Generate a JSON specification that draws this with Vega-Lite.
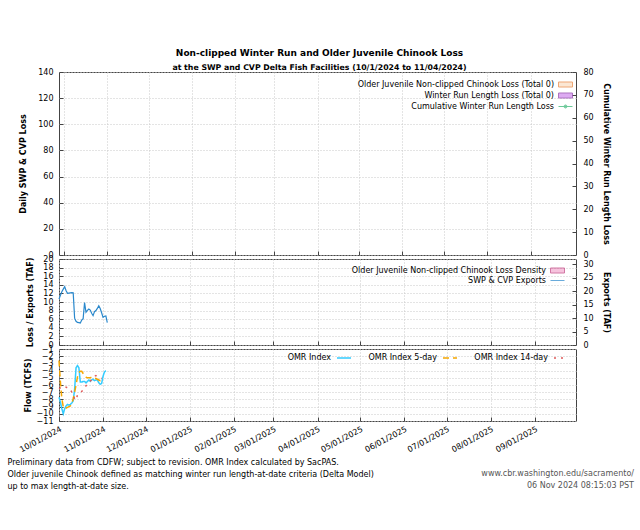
{
  "$schema": "https://vega.github.io/schema/vega-lite/v6.json",
  "padding": {"left": 6, "top": 48, "right": 4, "bottom": 4},
  "bounds": "flush",
  "spacing": 4,
  "resolve": {
    "scale": {"color": "independent", "fill": "independent", "stroke": "independent", "shape": "independent", "strokeDash": "independent"},
    "legend": {"color": "independent", "fill": "independent", "stroke": "independent", "shape": "independent", "strokeDash": "independent"}
  },
  "title": {
    "text": "Non-clipped Winter Run and Older Juvenile Chinook Loss",
    "subtitle": "at the SWP and CVP Delta Fish Facilities (10/1/2024 to 11/04/2024)",
    "anchor": "middle",
    "dx": -1,
    "offset": -4,
    "font": "DejaVu Sans",
    "fontSize": 9,
    "fontWeight": "bold",
    "color": "#000",
    "subtitleFont": "DejaVu Sans",
    "subtitleFontSize": 7.8,
    "subtitleFontWeight": "bold",
    "subtitleColor": "#000",
    "subtitlePadding": 6
  },
  "datasets": {
    "daily": [
      {"date": "2024-10-01", "loss": 0, "exports": 17.1, "omr": -7.7, "omr5": -2.6, "omr14": -6.5},
      {"date": "2024-10-02", "loss": 0, "exports": 18.5, "omr": -8.4, "omr5": -5.6, "omr14": -6.4},
      {"date": "2024-10-03", "loss": 0, "exports": 19.8, "omr": -9.3, "omr5": -7.9, "omr14": -6.3},
      {"date": "2024-10-04", "loss": 0, "exports": 20.8, "omr": -10.0, "omr5": -9.0, "omr14": -6.2},
      {"date": "2024-10-05", "loss": 0, "exports": 21.7, "omr": -9.3, "omr5": -9.3, "omr14": -6.2},
      {"date": "2024-10-06", "loss": 0, "exports": 20.2, "omr": -8.9, "omr5": -9.2, "omr14": -6.3},
      {"date": "2024-10-07", "loss": 0, "exports": 19.2, "omr": -8.7, "omr5": -9.1, "omr14": -6.4},
      {"date": "2024-10-08", "loss": 0, "exports": 19.3, "omr": -8.8, "omr5": -9.0, "omr14": -6.5},
      {"date": "2024-10-09", "loss": 0, "exports": 19.4, "omr": -8.7, "omr5": -8.9, "omr14": -6.6},
      {"date": "2024-10-10", "loss": 0, "exports": 19.5, "omr": -8.5, "omr5": -8.6, "omr14": -7.0},
      {"date": "2024-10-11", "loss": 0, "exports": 19.4, "omr": -8.2, "omr5": -7.9, "omr14": -7.5},
      {"date": "2024-10-12", "loss": 0, "exports": 10.0, "omr": -6.6, "omr5": -7.0, "omr14": -7.9},
      {"date": "2024-10-13", "loss": 0, "exports": 8.8, "omr": -3.6, "omr5": -6.0, "omr14": -8.1},
      {"date": "2024-10-14", "loss": 0, "exports": 8.4, "omr": -3.3, "omr5": -4.9, "omr14": -7.4},
      {"date": "2024-10-15", "loss": 0, "exports": 8.3, "omr": -3.6, "omr5": -4.3, "omr14": -7.2},
      {"date": "2024-10-16", "loss": 0, "exports": 8.2, "omr": -5.6, "omr5": -4.1, "omr14": -7.0},
      {"date": "2024-10-17", "loss": 0, "exports": 9.3, "omr": -5.6, "omr5": -4.1, "omr14": -6.9},
      {"date": "2024-10-18", "loss": 0, "exports": 9.8, "omr": -5.5, "omr5": -4.4, "omr14": -6.7},
      {"date": "2024-10-19", "loss": 0, "exports": 15.8, "omr": -5.5, "omr5": -4.7, "omr14": -6.4},
      {"date": "2024-10-20", "loss": 0, "exports": 12.2, "omr": -5.7, "omr5": -4.9, "omr14": -6.1},
      {"date": "2024-10-21", "loss": 0, "exports": 12.9, "omr": -5.5, "omr5": -5.0, "omr14": -5.9},
      {"date": "2024-10-22", "loss": 0, "exports": 13.4, "omr": -5.3, "omr5": -5.0, "omr14": -5.7},
      {"date": "2024-10-23", "loss": 0, "exports": 13.0, "omr": -5.5, "omr5": -5.0, "omr14": -5.5},
      {"date": "2024-10-24", "loss": 0, "exports": 11.8, "omr": -5.3, "omr5": -4.9, "omr14": -5.2},
      {"date": "2024-10-25", "loss": 0, "exports": 10.9, "omr": -5.2, "omr5": -4.9, "omr14": -5.0},
      {"date": "2024-10-26", "loss": 0, "exports": 12.4, "omr": -5.4, "omr5": -5.0, "omr14": -4.8},
      {"date": "2024-10-27", "loss": 0, "exports": 12.8, "omr": -5.3, "omr5": -5.1, "omr14": -4.7},
      {"date": "2024-10-28", "loss": 0, "exports": 13.6, "omr": -5.3, "omr5": -5.2, "omr14": -4.8},
      {"date": "2024-10-29", "loss": 0, "exports": 14.6, "omr": -5.7, "omr5": -5.3, "omr14": -4.9},
      {"date": "2024-10-30", "loss": 0, "exports": 13.6, "omr": -5.9, "omr5": -5.4, "omr14": -5.0},
      {"date": "2024-10-31", "loss": 0, "exports": 12.0, "omr": -5.8, "omr5": -5.4, "omr14": -5.1},
      {"date": "2024-11-01", "loss": 0, "exports": 10.3, "omr": -4.8, "omr5": -5.3, "omr14": null},
      {"date": "2024-11-02", "loss": 0, "exports": 10.7, "omr": -4.2, "omr5": null, "omr14": null},
      {"date": "2024-11-03", "loss": 0, "exports": 10.8, "omr": -4.0, "omr5": null, "omr14": null},
      {"date": "2024-11-04", "loss": 0, "exports": 8.3, "omr": null, "omr5": null, "omr14": null}
    ],
    "legend1": [
      {"series": "Older Juvenile Non-clipped Chinook Loss (Total 0)"},
      {"series": "Winter Run Length Loss (Total 0)"},
      {"series": "Cumulative Winter Run Length Loss"}
    ],
    "legend2": [
      {"series": "Older Juvenile Non-clipped Chinook Loss Density"},
      {"series": "SWP & CVP Exports"}
    ]
  },
  "vconcat": [
    {
      "width": 517,
      "height": 183,
      "layer": [
        {
          "data": {"name": "daily"},
          "mark": {"type": "bar", "color": "#bb55e6"},
          "encoding": {
            "x": {
              "field": "date", "type": "temporal",
              "scale": {"type": "utc", "domain": [{"year": 2024, "month": 10, "date": 1, "utc": true}, {"year": 2025, "month": 9, "date": 30, "utc": true}]},
              "axis": {"title": null, "labels": false, "grid": true, "values": [
                {"year": 2024, "month": 10, "date": 1, "utc": true}, {"year": 2024, "month": 11, "date": 1, "utc": true}, {"year": 2024, "month": 12, "date": 1, "utc": true},
                {"year": 2025, "month": 1, "date": 1, "utc": true}, {"year": 2025, "month": 2, "date": 1, "utc": true}, {"year": 2025, "month": 3, "date": 1, "utc": true},
                {"year": 2025, "month": 4, "date": 1, "utc": true}, {"year": 2025, "month": 5, "date": 1, "utc": true}, {"year": 2025, "month": 6, "date": 1, "utc": true},
                {"year": 2025, "month": 7, "date": 1, "utc": true}, {"year": 2025, "month": 8, "date": 1, "utc": true}, {"year": 2025, "month": 9, "date": 1, "utc": true}]}
            },
            "y": {
              "field": "loss", "type": "quantitative",
              "scale": {"domain": [0, 140], "nice": false},
              "axis": {"title": "Daily SWP & CVP Loss", "orient": "left", "grid": true, "values": [0, 20, 40, 60, 80, 100, 120, 140], "titlePadding": 10}
            }
          }
        },
        {
          "data": {"name": "legend1"},
          "mark": {"type": "point", "filled": true},
          "encoding": {
            "y": {
              "field": "cum", "type": "quantitative",
              "scale": {"domain": [0, 80], "nice": false},
              "axis": {"title": "Cumulative Winter Run Length Loss", "orient": "right", "grid": false, "values": [0, 10, 20, 30, 40, 50, 60, 70, 80], "titlePadding": 8}
            },
            "fill": {
              "field": "series", "type": "nominal",
              "scale": {"domain": ["Older Juvenile Non-clipped Chinook Loss (Total 0)", "Winter Run Length Loss (Total 0)", "Cumulative Winter Run Length Loss"], "range": ["#f8cfa8", "#bb55e6", "#2fb36f"]},
              "legend": {"title": null, "orient": "none", "legendX": 501, "legendY": 7, "padding": 0, "labelFontSize": 8, "labelAlign": "right", "labelOffset": -17, "symbolSize": 100, "rowPadding": 1, "symbolStrokeWidth": 1, "labelLimit": 400}
            },
            "stroke": {
              "field": "series", "type": "nominal",
              "scale": {"domain": ["Older Juvenile Non-clipped Chinook Loss (Total 0)", "Winter Run Length Loss (Total 0)", "Cumulative Winter Run Length Loss"], "range": ["#e8823a", "#8a3aa8", "#2fb36f"]}
            },
            "shape": {
              "field": "series", "type": "nominal",
              "scale": {"domain": ["Older Juvenile Non-clipped Chinook Loss (Total 0)", "Winter Run Length Loss (Total 0)", "Cumulative Winter Run Length Loss"], "range": ["M-1.4,-0.5H1.4V0.5H-1.4Z", "M-1.4,-0.5H1.4V0.5H-1.4Z", "M-1.4,0H1.4M-0.3,0A0.3,0.3,0,1,1,0.3,0A0.3,0.3,0,1,1,-0.3,0Z"]}
            }
          }
        }
      ],
      "resolve": {"scale": {"y": "independent"}}
    },
    {
      "width": 517,
      "height": 86,
      "layer": [
        {
          "data": {"name": "legend2"},
          "mark": {"type": "point", "filled": true},
          "encoding": {
            "x": {
              "field": "date", "type": "temporal",
              "scale": {"type": "utc", "domain": [{"year": 2024, "month": 10, "date": 1, "utc": true}, {"year": 2025, "month": 9, "date": 30, "utc": true}]},
              "axis": {"title": null, "labels": false, "grid": true, "values": [
                {"year": 2024, "month": 10, "date": 1, "utc": true}, {"year": 2024, "month": 11, "date": 1, "utc": true}, {"year": 2024, "month": 12, "date": 1, "utc": true},
                {"year": 2025, "month": 1, "date": 1, "utc": true}, {"year": 2025, "month": 2, "date": 1, "utc": true}, {"year": 2025, "month": 3, "date": 1, "utc": true},
                {"year": 2025, "month": 4, "date": 1, "utc": true}, {"year": 2025, "month": 5, "date": 1, "utc": true}, {"year": 2025, "month": 6, "date": 1, "utc": true},
                {"year": 2025, "month": 7, "date": 1, "utc": true}, {"year": 2025, "month": 8, "date": 1, "utc": true}, {"year": 2025, "month": 9, "date": 1, "utc": true}]}
            },
            "y": {
              "field": "density", "type": "quantitative",
              "scale": {"domain": [0, 20], "nice": false},
              "axis": {"title": "Loss / Exports (TAF)", "orient": "left", "grid": true, "values": [0, 2, 4, 6, 8, 10, 12, 14, 16, 18, 20], "titlePadding": 8}
            },
            "fill": {
              "field": "series", "type": "nominal",
              "scale": {"domain": ["Older Juvenile Non-clipped Chinook Loss Density", "SWP & CVP Exports"], "range": ["#ee88bb", "transparent"]},
              "legend": {"title": null, "orient": "none", "legendX": 493, "legendY": 6, "padding": 0, "labelFontSize": 8, "labelAlign": "right", "labelOffset": -17, "symbolSize": 100, "rowPadding": 0, "symbolStrokeWidth": 1, "labelLimit": 400}
            },
            "stroke": {
              "field": "series", "type": "nominal",
              "scale": {"domain": ["Older Juvenile Non-clipped Chinook Loss Density", "SWP & CVP Exports"], "range": ["#c0407f", "#2a88cc"]}
            },
            "shape": {
              "field": "series", "type": "nominal",
              "scale": {"domain": ["Older Juvenile Non-clipped Chinook Loss Density", "SWP & CVP Exports"], "range": ["M-1.4,-0.5H1.4V0.5H-1.4Z", "M-1.4,0H1.4"]}
            }
          }
        },
        {
          "data": {"name": "daily"},
          "mark": {"type": "line", "color": "#2a88cc", "strokeWidth": 1.2},
          "encoding": {
            "x": {"field": "date", "type": "temporal"},
            "y": {
              "field": "exports", "type": "quantitative",
              "scale": {"domain": [0, 32], "nice": false},
              "axis": {"title": "Exports (TAF)", "orient": "right", "grid": false, "values": [0, 5, 10, 15, 20, 25, 30], "titlePadding": 8}
            }
          }
        }
      ],
      "resolve": {"scale": {"y": "independent"}}
    },
    {
      "width": 517,
      "height": 72,
      "title": {
        "text": ["www.cbr.washington.edu/sacramento/", "06 Nov 2024 08:15:03 PST"],
        "orient": "bottom", "anchor": "end", "frame": "group",
        "dx": 58, "dy": -20, "offset": 0,
        "fontSize": 8, "fontWeight": "normal", "color": "#555", "lineHeight": 12
      },
      "data": {"name": "daily"},
      "transform": [{"fold": ["omr", "omr5", "omr14"], "as": ["key", "value"]}],
      "mark": {"type": "line", "strokeWidth": 1.5},
      "encoding": {
        "x": {
          "field": "date", "type": "temporal",
          "scale": {"type": "utc", "domain": [{"year": 2024, "month": 10, "date": 1, "utc": true}, {"year": 2025, "month": 9, "date": 30, "utc": true}]},
          "axis": {
            "grid": true, "format": "%m/%d/%Y", "labelAngle": -28, "labelAlign": "right", "labelBaseline": "top", "labelPadding": 8,
            "values": [
              {"year": 2024, "month": 10, "date": 1, "utc": true}, {"year": 2024, "month": 11, "date": 1, "utc": true}, {"year": 2024, "month": 12, "date": 1, "utc": true},
              {"year": 2025, "month": 1, "date": 1, "utc": true}, {"year": 2025, "month": 2, "date": 1, "utc": true}, {"year": 2025, "month": 3, "date": 1, "utc": true},
              {"year": 2025, "month": 4, "date": 1, "utc": true}, {"year": 2025, "month": 5, "date": 1, "utc": true}, {"year": 2025, "month": 6, "date": 1, "utc": true},
              {"year": 2025, "month": 7, "date": 1, "utc": true}, {"year": 2025, "month": 8, "date": 1, "utc": true}, {"year": 2025, "month": 9, "date": 1, "utc": true}],
            "title": ["Preliminary data from CDFW; subject to revision. OMR Index calculated by SacPAS.", "Older juvenile Chinook defined as matching winter run length-at-date criteria (Delta Model)", "up to max length-at-date size."],
            "titleX": -52, "titleY": 37, "titleAlign": "left", "titleBaseline": "top", "titleAngle": 0,
            "titleFontWeight": "normal", "titleFontSize": 8, "titleLineHeight": 12
          }
        },
        "y": {
          "field": "value", "type": "quantitative",
          "scale": {"domain": [-11, -1], "nice": false},
          "axis": {"title": "Flow (TCFS)", "grid": true, "values": [-11, -10, -9, -8, -7, -6, -5, -4, -3, -2, -1], "titlePadding": 4}
        },
        "color": {
          "field": "key", "type": "nominal",
          "scale": {"domain": ["omr", "omr5", "omr14"], "range": ["#33ccff", "#f5a700", "#e05a5a"]},
          "legend": {
            "title": null, "orient": "none", "legendX": 277, "legendY": 1, "direction": "horizontal", "padding": 0,
            "labelFontSize": 8, "labelAlign": "right", "labelOffset": -21, "symbolSize": 196, "symbolType": "stroke",
            "symbolStrokeWidth": 1.5, "columnPadding": 14, "labelLimit": 400,
            "labelExpr": "{'omr': 'OMR Index', 'omr5': 'OMR Index 5-day', 'omr14': 'OMR Index 14-day'}[datum.label]"
          }
        },
        "strokeDash": {
          "field": "key", "type": "nominal",
          "scale": {"domain": ["omr", "omr5", "omr14"], "range": [[1, 0], [6, 4], [2, 5]]}
        }
      }
    }
  ],
  "config": {
    "font": "DejaVu Sans",
    "view": {"stroke": "#444", "strokeWidth": 1},
    "axis": {
      "labelFontSize": 8, "titleFontSize": 8, "titleFontWeight": "bold", "labelColor": "#000", "titleColor": "#000",
      "domain": false, "tickColor": "#444", "tickSize": -4, "labelPadding": 10,
      "gridColor": "#c8c8c8", "gridDash": [1, 2], "gridWidth": 1, "labelOverlap": false, "labelFlush": false
    },
    "axisRight": {"labelPadding": 11},
    "legend": {"labelFontSize": 8, "labelColor": "#000"}
  }
}
